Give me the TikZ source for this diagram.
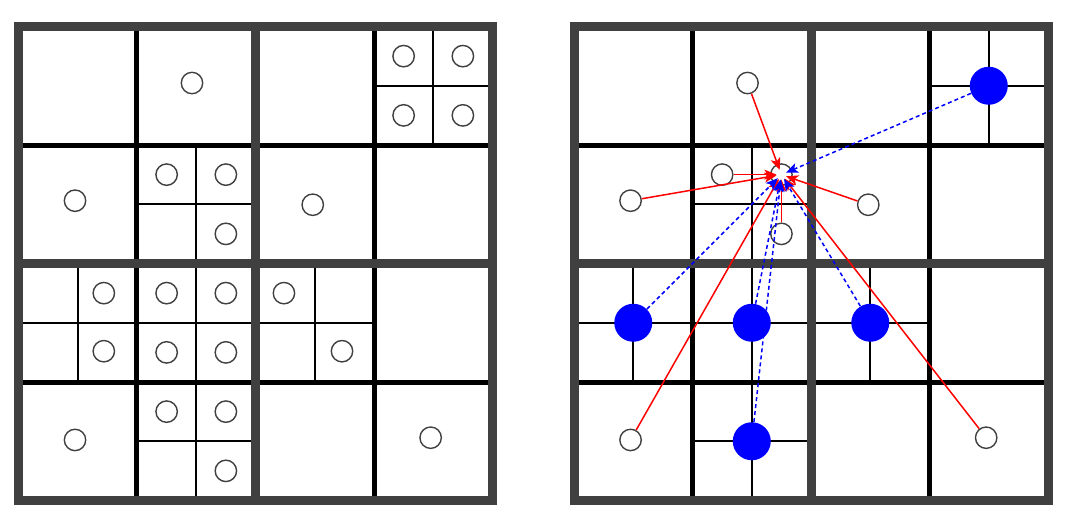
\documentclass[tikz,border=0pt]{standalone}
\usetikzlibrary{arrows.meta}
\definecolor{framegray}{HTML}{404040}
\begin{document}
\begin{tikzpicture}[x=59.25pt,y=-59.25pt,
    particle/.style={circle,draw=framegray,line width=0.7pt,minimum size=10.7pt,inner sep=0pt},
    cluster/.style={circle,fill=blue,minimum size=19pt,inner sep=0pt},
    direct/.style={red,line width=0.75pt,-{Stealth[length=6pt,width=5pt,inset=1.5pt]},shorten >=2.5pt},
    approx/.style={blue,line width=0.75pt,dash pattern=on 2pt off 1.5pt,-{Stealth[length=6pt,width=5pt,inset=1.5pt]},shorten >=2.5pt}]
  \useasboundingbox (-0.1561,-0.2236) rectangle (8.8734,4.1646);
  % the two quadtrees
  \foreach \s in {0,4.688} {
    \begin{scope}[shift={(\s,0)}]
      \foreach \i/\j in {3/0,1/1,0/2,1/2,2/2,1/3}
        \draw[line width=1pt] (\i+0.5,\j) -- (\i+0.5,\j+1) (\i,\j+0.5) -- (\i+1,\j+0.5);
      \draw[line width=2.5pt] (1,0) -- (1,4) (3,0) -- (3,4) (0,1) -- (4,1) (0,3) -- (4,3);
      \draw[framegray,line width=4.5pt] (2,0) -- (2,4) (0,2) -- (4,2) (0,0) rectangle (4,4);
    \end{scope}
  }
  % left: all particles
  \path[every node/.style=particle]
    (1.464,0.477) node (p1){}
    (3.25,0.25) node (p2){}
    (3.75,0.25) node (p3){}
    (3.25,0.75) node (p4){}
    (3.75,0.75) node (p5){}
    (0.477,1.470) node (p6){}
    (1.25,1.25) node (p7){}
    (1.75,1.25) node (p8){}
    (1.75,1.75) node (p9){}
    (2.483,1.504) node (p10){}
    (0.72,2.25) node (p11){}
    (0.72,2.74) node (p12){}
    (1.25,2.25) node (p13){}
    (1.75,2.25) node (p14){}
    (1.25,2.75) node (p15){}
    (1.75,2.75) node (p16){}
    (2.24,2.25) node (p17){}
    (2.73,2.74) node (p18){}
    (0.477,3.489) node (p19){}
    (1.25,3.25) node (p20){}
    (1.75,3.25) node (p21){}
    (1.75,3.75) node (p22){}
    (3.478,3.470) node (p23){};
  % right: near particles and far clusters
  \begin{scope}[shift={(4.688,0)}]
    \path[every node/.style=particle]
      (1.75,1.25) node (t){}
      (1.464,0.477) node (q1){}
      (0.477,1.470) node (q2){}
      (1.25,1.25) node (q3){}
      (1.75,1.75) node (q4){}
      (2.483,1.504) node (q5){}
      (0.477,3.489) node (q6){}
      (3.478,3.470) node (q7){};
    \path[every node/.style=cluster]
      (3.5,0.5) node (m1){}
      (0.5,2.5) node (m2){}
      (1.5,2.5) node (m3){}
      (2.5,2.5) node (m4){}
      (1.5,3.5) node (m5){};
  \end{scope}
  \begin{scope}[direct]
    \draw (q1) to (t.center);
    \draw (q2) to (t.center);
    \draw (q3) to (t.center);
    \draw (q4) to (t.center);
    \draw (q5) to (t.center);
    \draw (q6) to (t.center);
    \draw (q7) to (t.center);
  \end{scope}
  \begin{scope}[approx]
    \draw (m1) to (t.center);
    \draw (m2) to (t.center);
    \draw (m3) to (t.center);
    \draw (m4) to (t.center);
    \draw (m5) to (t.center);
  \end{scope}
\end{tikzpicture}
\end{document}
